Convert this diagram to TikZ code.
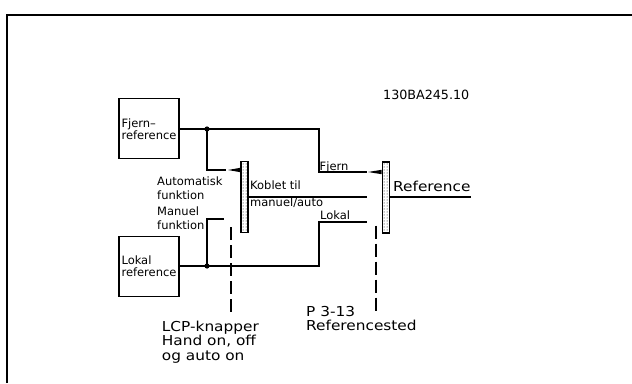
\documentclass[tikz,border=0pt]{standalone}
\usepackage{fontspec}
\setmainfont{DejaVu Sans}
\newfontfamily\widefont[FakeStretch=1.12]{DejaVu Sans}
\usetikzlibrary{patterns, calc}

\begin{document}
\begin{tikzpicture}[x=1pt, y=-1pt,
  refbox/.style={draw, line width=1.3pt, minimum width=60pt, minimum height=60pt, inner sep=0pt, align=left,
    font=\fontsize{11.5}{12}\selectfont},
  bar/.style={draw, line width=1.3pt, pattern=dots, minimum width=7pt, minimum height=71pt, inner sep=0pt},
  wire/.style={line width=1.3pt},
  guide/.style={line width=1.3pt, dash pattern=on 13pt off 5pt},
  small/.style={font=\fontsize{11.5}{13.5}\selectfont, inner sep=0pt, align=left, anchor=base west},
  big/.style={font=\widefont\fontsize{13.7}{14.5}\selectfont, inner sep=0pt, align=left, anchor=base west},
  wedge/.style={fill=black}
]
\useasboundingbox (0,0) rectangle (632,383);
% outer frame
\draw[line width=2.2pt] (7,383) -- (7,15) -- (632,15);

\node[refbox] (fjern) at (149,128.8) {Fjern–\\reference};
\node[refbox] (lokal) at (149,266.3) {Lokal\\reference};
\node[bar] (swA) at (244.5,197.2) {};
\node[bar] (swB) at (385.8,197.5) {};

\coordinate (jA) at (207,129);
\coordinate (jB) at (207,266);
\coordinate (fjK) at (319,129);
\coordinate (loK) at (319,266);
\coordinate (fjE) at (367,172);
\coordinate (loE) at (367,222);
\coordinate (auE) at (226,170);
\coordinate (maE) at (224,219);
\coordinate (midE) at (367,197);
\coordinate (outE) at (471,197);

% wires
\draw[wire] (fjern.east |- jA) -- (jA) -- (fjK) |- (fjE);
\draw[wire] (lokal.east |- jB) -- (jB) -- (loK) |- (loE);
\draw[wire] (jA) |- (auE);
\draw[wire] (jB) |- (maE);
\draw[wire] (swA.east |- midE) -- (midE);
\draw[wire] (swB.east |- outE) -- (outE);
\fill (jA) circle (2.6pt);
\fill (jB) circle (2.6pt);

% switch contacts
\fill[wedge] ($(auE)+(2,0)$) -- ($(swA.west |- auE)+(0,-2.2)$) -- ($(swA.west |- auE)+(0,2.2)$) -- cycle;
\fill[wedge] ($(fjE)+(1,0)$) -- ($(swB.west |- fjE)+(0,-2.2)$) -- ($(swB.west |- fjE)+(0,2.2)$) -- cycle;

% selector guides
\coordinate (gA) at (231,313);
\coordinate (gB) at (376,313);
\draw[guide] (swA.south -| gA) ++(0,-6) -- (gA);
\draw[guide] (swB.south -| gB) ++(0,-8) -- (gB);

% labels (base anchor sits on the last line)
\node[font=\fontsize{12.7}{14}\selectfont, inner sep=0pt, anchor=base west] (code) at (383,99.3) {130BA245.10};
\node[big] (reflbl) at (393,191) {Reference};
\node[small] (fjlbl) at (319.5,170.5) {Fjern};
\node[small] (lolbl) at (320,219.3) {Lokal};
\node[small] (kob) at (250,189.5) {Koblet til};
\node[small] (mau) at (250,206) {manuel/auto};
\node[small] (auto) at (157,199) {Automatisk\\funktion};
\node[small] (man) at (157,229) {Manuel\\funktion};
\node[big] (lcp) at (161.7,360) {LCP-knapper\\Hand on, off\\og auto on};
\node[big] (par) at (306,330.5) {P 3-13\\Referencested};
\end{tikzpicture}
\end{document}
